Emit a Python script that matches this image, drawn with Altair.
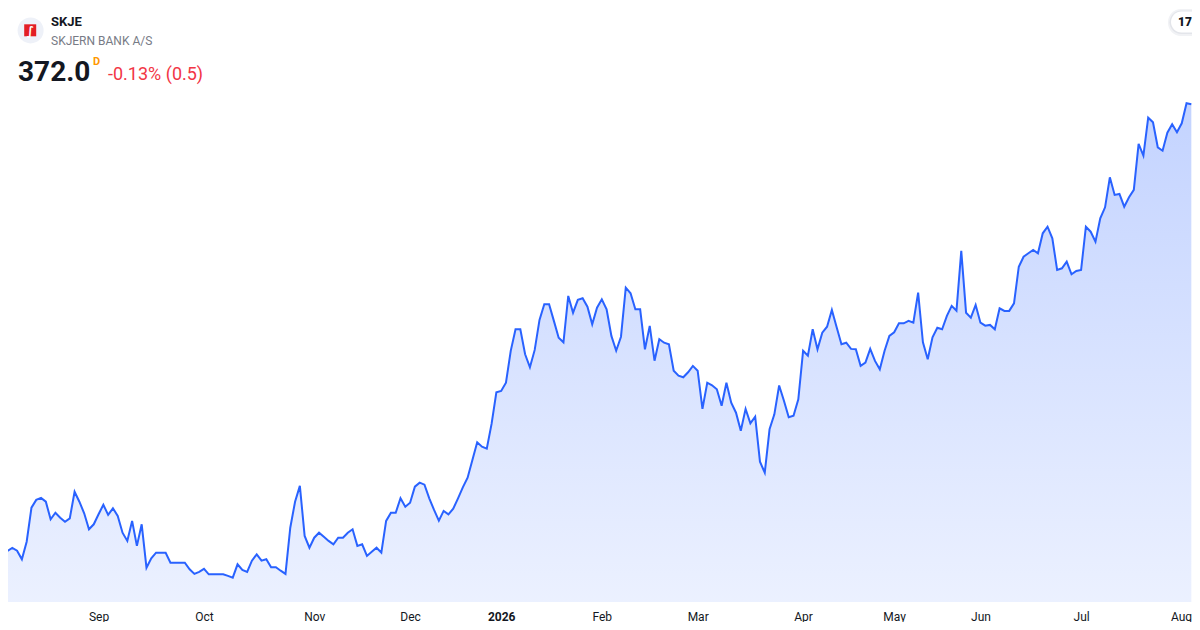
import json
import altair as alt
import pandas as pd

# ---- data (daily closes, one per trading day) ----
prices = [
    150.8, 148.7, 150.2, 148.8, 144.5, 153.3, 170.3, 174.2, 175.2, 173.3,
    164.5, 167.8, 165.3, 163.3, 165.0, 178.3, 173.3, 167.5, 159.5, 162.0,
    167.0, 171.8, 166.7, 170.0, 166.2, 157.8, 153.7, 163.7, 151.2, 162.0,
    140.3, 145.0, 147.8, 147.8, 147.8, 142.8, 142.8, 142.8, 142.8, 139.5,
    137.2, 138.2, 139.7, 137.0, 137.0, 137.0, 137.0, 136.2, 135.3, 142.0,
    139.2, 138.2, 143.8, 147.0, 143.8, 144.5, 140.5, 140.5, 138.8, 137.2,
    160.3, 173.3, 181.2, 156.2, 150.3, 155.3, 157.8, 155.8, 153.7, 152.0,
    155.3, 155.3, 157.8, 159.5, 151.2, 152.0, 146.2, 148.3, 150.3, 147.8,
    163.7, 167.8, 167.8, 175.0, 170.8, 172.8, 180.8, 182.8, 181.8, 175.0,
    169.2, 163.8, 168.7, 167.0, 169.8, 175.0, 180.5, 185.3, 194.2, 203.0,
    200.8, 199.8, 212.2, 228.0, 228.7, 232.8, 248.7, 259.5, 259.5, 247.0,
    240.5, 249.2, 264.2, 272.0, 272.0, 263.7, 255.3, 253.0, 276.2, 267.8,
    274.2, 275.0, 270.8, 262.0, 270.3, 274.5, 269.5, 256.2, 248.8, 255.8,
    280.3, 277.5, 269.5, 269.5, 249.5, 261.2, 243.8, 254.5, 252.8, 252.0,
    238.8, 236.3, 235.5, 238.0, 241.2, 238.8, 219.7, 232.8, 231.5, 229.5,
    221.3, 232.8, 222.8, 217.8, 208.8, 219.7, 212.5, 215.8, 193.3, 187.8,
    209.5, 217.0, 231.4, 223.8, 215.5, 216.3, 224.5, 248.8, 246.3, 259.5,
    249.5, 257.8, 260.8, 269.2, 260.5, 252.0, 252.8, 249.7, 249.5, 241.2,
    242.8, 249.7, 243.7, 239.5, 248.8, 256.2, 258.0, 262.5, 262.5, 263.7,
    262.8, 277.8, 253.0, 244.5, 255.5, 260.3, 259.5, 266.2, 271.2, 268.8,
    298.7, 267.8, 265.3, 271.7, 262.8, 261.3, 261.7, 259.5, 270.0, 268.7,
    268.7, 272.5, 290.8, 295.8, 297.5, 299.2, 297.5, 307.5, 310.8, 305.0,
    289.2, 290.0, 293.3, 287.0, 288.7, 289.2, 310.8, 308.3, 303.3, 315.0,
    320.5, 335.5, 326.7, 327.2, 320.8, 325.5, 329.2, 352.2, 346.3, 365.3,
    363.0, 350.5, 348.8, 357.8, 362.0, 358.0, 362.5, 372.5, 372.0,
]
month_labels = ["Sep", "Oct", "Nov", "Dec", "2026", "Feb", "Mar", "Apr", "May", "Jun", "Jul", "Aug"]
month_index = [20, 42, 65, 85, 104, 125, 145, 167, 186, 204, 225, 247]
year_index = 104
last_tick = month_index[-1]

ticker = "SKJE"
company = "SKJERN BANK A/S"
last_price = "372.0"
interval = "D"
change_text = "-0.13% (0.5)"

df = pd.DataFrame({"i": list(range(len(prices))), "price": prices})
one = pd.DataFrame({"k": [0]})

W, H = 1184, 594
label_expr = f"{json.dumps(month_labels)}[indexof({json.dumps(month_index)}, datum.value)]"

x = alt.X(
    "i:Q",
    scale=alt.Scale(domain=[1.106, 248.14], nice=False, zero=False),
    axis=alt.Axis(
        values=month_index,
        labelExpr=label_expr,
        title=None,
        grid=False,
        domain=False,
        ticks=False,
        labelPadding=9,
        labelFontSize=12,
        labelFont="Roboto",
        labelColor="#131722",
        labelFontWeight={"condition": {"test": f"datum.value == {year_index}", "value": "bold"}, "value": "normal"},
        labelAlign={"condition": {"test": f"datum.value == {last_tick}", "value": "right"}, "value": "center"},
        labelOffset={"condition": {"test": f"datum.value == {last_tick}", "value": 5}, "value": 0},
        labelOverlap=False,
        labelFlush=False,
    ),
)
y = alt.Y("price:Q", scale=alt.Scale(domain=[123.15, 420.15], nice=False, zero=False), axis=None)

base = alt.Chart(df).encode(x=x, y=y)

gradient = alt.Gradient(
    gradient="linear",
    stops=[
        alt.GradientStop(color="rgba(41,98,255,0.28)", offset=0),
        alt.GradientStop(color="rgba(41,98,255,0.0)", offset=1),
    ],
    x1=1, x2=1, y1=0, y2=1,
)

area = base.mark_area(clip=True, color=gradient)
line = base.mark_line(clip=True, color="#2962ff", strokeWidth=2)


def txt(text, px, py, size, color, weight="normal", align="left", baseline="alphabetic", font="Roboto"):
    return alt.Chart(one).mark_text(
        align=align, baseline=baseline, fontSize=size, font=font, fontWeight=weight, color=color
    ).encode(x=alt.value(px), y=alt.value(py), text=alt.value(text))


logo_circle = alt.Chart(one).mark_circle(size=676, color="#eef1f8", opacity=1).encode(
    x=alt.value(22.6), y=alt.value(22.4)
)
logo_square = alt.Chart(one).mark_square(size=144, color="#e31e24", opacity=1).encode(
    x=alt.value(22.2), y=alt.value(22.3)
)
logo_glyph = txt("\u222b", 22.4, 22.6, 12, "white", weight="bold", align="center", baseline="middle", font="DejaVu Sans")

pill_shadow_outer = alt.Chart(one).mark_rect(color="#f1f2f5", cornerRadius=13).encode(
    x=alt.value(1160), x2=alt.value(1215), y=alt.value(1), y2=alt.value(28)
)
pill_shadow = alt.Chart(one).mark_rect(color="#e3e5ea", cornerRadius=12).encode(
    x=alt.value(1161.5), x2=alt.value(1215), y=alt.value(2.5), y2=alt.value(26)
)
pill = alt.Chart(one).mark_rect(color="white", cornerRadius=10.5).encode(
    x=alt.value(1163), x2=alt.value(1215), y=alt.value(3.5), y2=alt.value(24.5)
)
tv_glyph = txt("17", 1177, 13.8, 12, "#131722", weight=900, align="center", baseline="middle")

chart = alt.layer(
    area,
    line,
    logo_circle,
    logo_square,
    logo_glyph,
    txt(ticker, 43, 17.7, 13, "#131722", weight="bold"),
    txt(company, 43, 37, 12, "#787b86"),
    txt(last_price, 10, 73, 28, "#131722", weight="bold"),
    txt(interval, 85, 57, 11, "#ff9800", weight="bold"),
    txt(change_text, 100, 72, 18, "#f23645"),
    pill_shadow_outer,
    pill_shadow,
    pill,
    tv_glyph,
).properties(
    width=W,
    height=H,
    autosize=alt.AutoSizeParams(type="none"),
    padding={"left": 0, "top": 0, "right": 0, "bottom": 20},
    background="white",
).configure_view(stroke=None)

chart.save("out.html", embed_options={"renderer": "svg", "actions": False})
